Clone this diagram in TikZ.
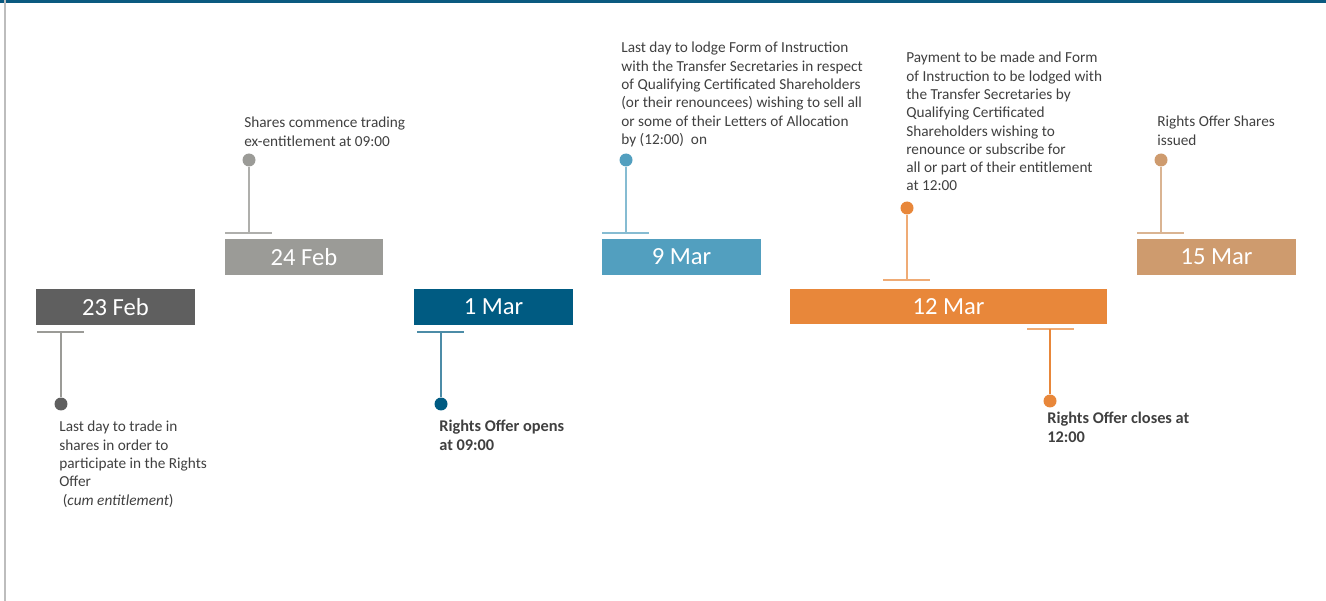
\documentclass[tikz,border=0pt]{standalone}
\usepackage{fontspec}
\setmainfont{Carlito}
\definecolor{topblue}{HTML}{0B5A80}
\definecolor{framegray}{HTML}{BDBDBD}
\definecolor{textgray}{HTML}{404040}
\definecolor{febdark}{HTML}{5F5F5F}
\definecolor{febgray}{HTML}{9B9B97}
\definecolor{marnavy}{HTML}{005B82}
\definecolor{marsky}{HTML}{529FBF}
\definecolor{marorange}{HTML}{E8873A}
\definecolor{martan}{HTML}{CE9B6E}
\begin{document}
\begin{tikzpicture}[x=0.02cm,y=-0.02cm,
    datebox/.style={fill=#1,text=white,minimum width=3.18cm,minimum height=0.72cm,inner sep=0pt,font=\fontsize{14}{14}\selectfont},
    dot/.style={circle,fill=#1,inner sep=0pt,minimum size=0.26cm},
    note/.style={anchor=north west,inner sep=0pt,align=left,text=textgray,font=\fontsize{8.7}{10.4}\selectfont},
    keynote/.style={note,font=\fontsize{9.3}{10.8}\selectfont\bfseries},
    tick/.style={draw=#1,line width=0.8pt}]
\useasboundingbox (0,0) rectangle (1326,601);
\draw[topblue,line width=2pt] (0,1) -- (1326,1);
\draw[framegray,line width=0.6pt] (5,0) -- (5,601);

% date boxes
\node[datebox=febdark] (feb23) at (115.5,307) {23 Feb};
\node[datebox=febgray] (feb24) at (304,257) {24 Feb};
\node[datebox=marnavy] (mar1) at (493.5,307) {1 Mar};
\node[datebox=marsky] (mar9) at (681.5,257) {9 Mar};
\node[datebox=marorange,minimum width=6.34cm] (mar12) at (948.5,306.5) {12 Mar};
\node[datebox=martan] (mar15) at (1216.5,257) {15 Mar};

% ticks
\coordinate (t1) at (61,332);
\coordinate (t2) at (249,233);
\coordinate (t3) at (441,332);
\coordinate (t4) at (626,233);
\coordinate (t5) at (907,280);
\coordinate (t6) at (1050,329);
\coordinate (t7) at (1161,233);

% dots
\node[dot=febdark] (d1) at (61,404) {};
\node[dot=febgray] (d2) at (249,160) {};
\node[dot=marnavy] (d3) at (441,404) {};
\node[dot=marsky] (d4) at (626,160) {};
\node[dot=marorange] (d5) at (907,208) {};
\node[dot=marorange] (d6) at (1050,401) {};
\node[dot=martan] (d7) at (1161,160) {};

\draw[tick=febgray] (t1) +(-24,0) -- +(23,0);
\draw[tick=febgray] (t1) -- (d1);
\draw[tick=febgray!80] (t2) +(-24,0) -- +(23,0);
\draw[tick=febgray!80] (t2) -- (d2);
\draw[tick=marnavy!70] (t3) +(-24,0) -- +(23,0);
\draw[tick=marnavy!70] (t3) -- (d3);
\draw[tick=marsky!70] (t4) +(-24,0) -- +(23,0);
\draw[tick=marsky!70] (t4) -- (d4);
\draw[tick=marorange!70] (t5) +(-24,0) -- +(23,0);
\draw[tick=marorange!70] (t5) -- (d5);
\draw[tick=marorange!70] (t6) +(-23,0) -- +(24,0);
\draw[tick=marorange] (t6) -- (d6);
\draw[tick=martan!75] (t7) +(-24,0) -- +(23,0);
\draw[tick=martan!75] (t7) -- (d7);

% notes
\node[note] (n1) at (59,421) {Last day to trade in\\shares in order to\\participate in the Rights\\Offer\\\ (\textit{cum entitlement})};
\node[note] (n2) at (244,117) {Shares commence trading\\ex-entitlement at 09:00};
\node[keynote] (n3) at (439,420) {Rights Offer opens\\at 09:00};
\node[note] (n4) at (621,42) {Last day to lodge Form of Instruction\\with the Transfer Secretaries in respect\\of Qualifying Certificated Shareholders\\(or their renouncees) wishing to sell all\\or some of their Letters of Allocation\\by (12:00)\ \ on};
\node[note] (n5) at (906,52) {Payment to be made and Form\\of Instruction to be lodged with\\the Transfer Secretaries by\\Qualifying Certificated\\Shareholders wishing to\\renounce or subscribe for\\all or part of their entitlement\\at 12:00};
\node[keynote] (n6) at (1047,412) {Rights Offer closes at\\12:00};
\node[note] (n7) at (1157,116) {Rights Offer Shares\\issued};
\end{tikzpicture}
\end{document}
